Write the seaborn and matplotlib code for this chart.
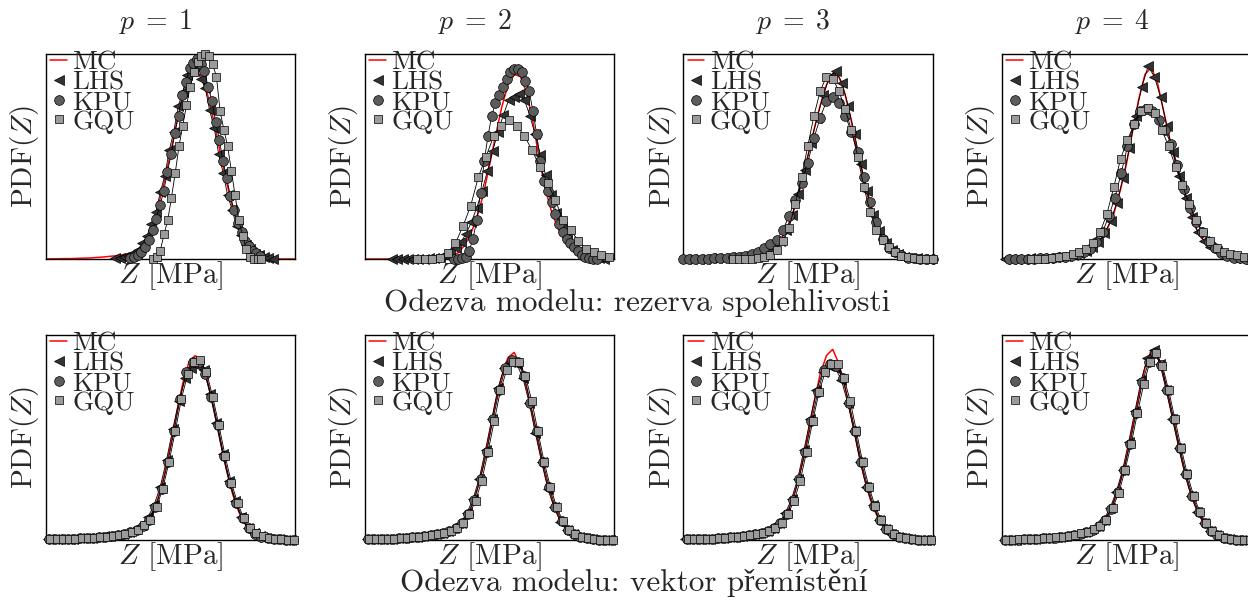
import numpy as np
import matplotlib
matplotlib.use("Agg")
import matplotlib.pyplot as plt
from matplotlib.lines import Line2D
import seaborn as sns

# ---------------------------------------------------------------------------
# Estimated PDFs of the model response Z (arbitrary units on both axes).
# MC curves are sampled on 0..100; each surrogate series has its own
# evaluation span (first, last point) and values.
# ---------------------------------------------------------------------------
methods = ["LHS", "KPU", "GQU"]
orders = [1, 2, 3, 4]
row_titles = ["Odezva modelu: rezerva spolehlivosti",
              "Odezva modelu: vektor přemístění"]

# --- reliability margin (rezerva spolehlivosti) ---------------------------
r1_mc = [0.000, 0.001, 0.001, 0.002, 0.002, 0.003, 0.004, 0.005, 0.007, 0.009, 0.012,
         0.015, 0.019, 0.024, 0.030, 0.045, 0.090, 0.150, 0.250, 0.370, 0.510, 0.660,
         0.790, 0.880, 0.920, 0.890, 0.800, 0.670, 0.520, 0.380, 0.250, 0.150, 0.080,
         0.040, 0.020, 0.008, 0.003, 0.001, 0.000, 0.000, 0.000]
r1_lhs_span = (28, 91)
r1_lhs = [0.003, 0.004, 0.010, 0.015, 0.030, 0.045, 0.078, 0.110, 0.170, 0.228, 0.325,
          0.405, 0.530, 0.620, 0.745, 0.815, 0.900, 0.918, 0.935, 0.880, 0.835, 0.725,
          0.640, 0.512, 0.420, 0.310, 0.240, 0.160, 0.118, 0.070, 0.050, 0.026, 0.018,
          0.008, 0.006, 0.002]
r1_kpu_span = (34, 86)
r1_kpu = [0.005, 0.010, 0.018, 0.035, 0.060, 0.095, 0.140, 0.196, 0.262, 0.330, 0.425,
          0.510, 0.615, 0.700, 0.800, 0.865, 0.930, 0.958, 0.975, 0.950, 0.915, 0.840,
          0.770, 0.670, 0.582, 0.478, 0.395, 0.305, 0.240, 0.175, 0.130, 0.090, 0.064,
          0.040, 0.028, 0.015]
r1_gqu_span = (43, 86.5)
r1_gqu = [0.0, 0.01, 0.04, 0.12, 0.19, 0.30, 0.42, 0.55, 0.65, 0.75, 0.84, 0.91, 0.96,
          0.99, 1.0, 0.99, 0.95, 0.89, 0.72, 0.63, 0.55, 0.43, 0.31, 0.19, 0.11, 0.05,
          0.01, 0.0, 0.0, 0.0]

r2_mc = [0.0, 0.0, 0.0, 0.0, 0.0, 0.001, 0.001, 0.002, 0.002, 0.003, 0.004, 0.005,
         0.007, 0.010, 0.016, 0.030, 0.065, 0.120, 0.200, 0.310, 0.450, 0.600, 0.740,
         0.850, 0.900, 0.890, 0.810, 0.670, 0.490, 0.340, 0.230, 0.150, 0.095, 0.055,
         0.030, 0.014, 0.006, 0.002, 0.001, 0.0, 0.0]
r2_lhs_span = (11, 96)
r2_lhs = [0.0, 0.0, 0.0, 0.0, 0.0, 0.001, 0.001, 0.003, 0.006, 0.011, 0.019, 0.032,
          0.053, 0.082, 0.124, 0.181, 0.250, 0.333, 0.428, 0.527, 0.620, 0.701, 0.775,
          0.790, 0.805, 0.775, 0.700, 0.608, 0.509, 0.408, 0.311, 0.226, 0.158, 0.106,
          0.067, 0.041, 0.024, 0.013, 0.007, 0.004, 0.002]
r2_kpu_span = (36, 93)
r2_kpu = [0.0, 0.0, 0.005, 0.01, 0.04, 0.10, 0.19, 0.32, 0.48, 0.60, 0.70, 0.76, 0.80,
          0.84, 0.88, 0.91, 0.925, 0.925, 0.91, 0.87, 0.82, 0.72, 0.61, 0.48, 0.38, 0.33,
          0.28, 0.22, 0.17, 0.13, 0.10, 0.08, 0.06, 0.04, 0.02, 0.01, 0.003, 0.001, 0.0]
r2_gqu_span = (21, 98)
r2_gqu = [0.0, 0.0, 0.0, 0.005, 0.03, 0.076, 0.16, 0.26, 0.40, 0.50, 0.60, 0.65, 0.68,
          0.65, 0.60, 0.53, 0.45, 0.37, 0.29, 0.19, 0.14, 0.09, 0.05, 0.035, 0.02, 0.01]

r3_mc = [0.001, 0.001, 0.002, 0.002, 0.003, 0.004, 0.005, 0.007, 0.009, 0.012, 0.016,
         0.021, 0.028, 0.037, 0.050, 0.070, 0.110, 0.170, 0.260, 0.370, 0.500, 0.630,
         0.750, 0.850, 0.905, 0.890, 0.800, 0.670, 0.520, 0.380, 0.260, 0.165, 0.100,
         0.058, 0.032, 0.017, 0.008, 0.004, 0.002, 0.001, 0.000]
r3_lhs_span = (1.25, 98.75)
r3_lhs = [0.001, 0.001, 0.002, 0.002, 0.003, 0.004, 0.006, 0.008, 0.010, 0.014, 0.018,
          0.024, 0.032, 0.043, 0.060, 0.090, 0.140, 0.215, 0.315, 0.435, 0.565, 0.690,
          0.800, 0.890, 0.915, 0.860, 0.745, 0.610, 0.465, 0.330, 0.215, 0.135, 0.080,
          0.046, 0.025, 0.012, 0.006, 0.003, 0.0015, 0.0005]
r3_kpu_span = (0, 100)
r3_kpu = [0.0, 0.0, 0.001, 0.001, 0.002, 0.003, 0.004, 0.006, 0.008, 0.012, 0.017, 0.025,
          0.036, 0.053, 0.072, 0.093, 0.14, 0.21, 0.29, 0.37, 0.47, 0.59, 0.69, 0.77,
          0.79, 0.76, 0.70, 0.62, 0.52, 0.40, 0.28, 0.18, 0.10, 0.055, 0.033, 0.018,
          0.006, 0.003, 0.001, 0.0, 0.0]
r3_gqu_span = (20, 100)
r3_gqu = [0.0, 0.0, 0.001, 0.002, 0.004, 0.008, 0.02, 0.045, 0.09, 0.15, 0.27, 0.40,
          0.55, 0.70, 0.82, 0.89, 0.88, 0.82, 0.73, 0.63, 0.50, 0.35, 0.23, 0.14, 0.095,
          0.058, 0.032, 0.016, 0.008, 0.003, 0.001, 0.0, 0.0]

r4_mc = [0.0, 0.001, 0.001, 0.002, 0.002, 0.003, 0.004, 0.005, 0.007, 0.009, 0.012,
         0.017, 0.024, 0.034, 0.048, 0.070, 0.100, 0.150, 0.220, 0.330, 0.460, 0.620,
         0.780, 0.900, 0.935, 0.860, 0.720, 0.580, 0.460, 0.350, 0.250, 0.160, 0.105,
         0.070, 0.047, 0.028, 0.013, 0.005, 0.002, 0.0005, 0.0]
r4_lhs_span = (1.25, 98.75)
r4_lhs = [0.0005, 0.001, 0.0015, 0.002, 0.0025, 0.0035, 0.0045, 0.006, 0.008, 0.0105,
          0.0145, 0.0205, 0.029, 0.041, 0.059, 0.085, 0.125, 0.185, 0.275, 0.395, 0.54,
          0.70, 0.84, 0.94, 0.89, 0.79, 0.65, 0.52, 0.405, 0.30, 0.205, 0.13, 0.088,
          0.058, 0.037, 0.02, 0.009, 0.0035, 0.001, 0.0]
r4_kpu_span = (3, 98)
r4_kpu = [0.0, 0.001, 0.001, 0.002, 0.002, 0.003, 0.004, 0.006, 0.008, 0.011, 0.016,
          0.023, 0.034, 0.05, 0.085, 0.13, 0.21, 0.30, 0.42, 0.55, 0.66, 0.72, 0.73, 0.72,
          0.68, 0.63, 0.56, 0.46, 0.34, 0.25, 0.18, 0.13, 0.085, 0.052, 0.03, 0.014,
          0.006, 0.004, 0.002]
r4_gqu_span = (12, 100)
r4_gqu = [0.0, 0.001, 0.002, 0.004, 0.008, 0.014, 0.022, 0.035, 0.05, 0.08, 0.13, 0.22,
          0.35, 0.49, 0.58, 0.66, 0.72, 0.735, 0.71, 0.63, 0.55, 0.45, 0.36, 0.27, 0.19,
          0.13, 0.09, 0.055, 0.035, 0.025, 0.02, 0.012, 0.005]

# --- displacement vector (vektor přemístění) ------------------------------
v1_mc = [0.003, 0.004, 0.004, 0.005, 0.006, 0.007, 0.009, 0.011, 0.013, 0.016, 0.019,
         0.022, 0.026, 0.033, 0.043, 0.057, 0.083, 0.127, 0.200, 0.310, 0.455, 0.616,
         0.764, 0.868, 0.900, 0.866, 0.771, 0.636, 0.485, 0.343, 0.224, 0.136, 0.077,
         0.040, 0.024, 0.012, 0.006, 0.004, 0.002, 0.001, 0.001]
v1_lhs_span = (1, 98.5)
v1_lhs = [0.003, 0.004, 0.005, 0.005, 0.007, 0.008, 0.010, 0.012, 0.015, 0.018, 0.021,
          0.025, 0.031, 0.040, 0.053, 0.075, 0.11, 0.17, 0.26, 0.39, 0.54, 0.68, 0.79,
          0.84, 0.85, 0.83, 0.71, 0.57, 0.42, 0.29, 0.19, 0.11, 0.06, 0.034, 0.018,
          0.010, 0.005, 0.003, 0.002, 0.001]
v1_kpu_span = (1.5, 99)
v1_kpu = [0.004, 0.004, 0.004, 0.006, 0.006, 0.008, 0.010, 0.012, 0.014, 0.017, 0.020,
          0.024, 0.029, 0.037, 0.048, 0.068, 0.10, 0.16, 0.25, 0.38, 0.53, 0.69, 0.82,
          0.87, 0.87, 0.81, 0.70, 0.56, 0.41, 0.28, 0.18, 0.105, 0.057, 0.031, 0.017,
          0.009, 0.005, 0.003, 0.002, 0.001]
v1_gqu_span = (2, 99.5)
v1_gqu = [0.003, 0.004, 0.005, 0.005, 0.006, 0.008, 0.010, 0.012, 0.015, 0.017, 0.021,
          0.024, 0.030, 0.038, 0.050, 0.071, 0.10, 0.16, 0.25, 0.38, 0.53, 0.69, 0.81,
          0.87, 0.88, 0.82, 0.70, 0.56, 0.41, 0.28, 0.18, 0.105, 0.058, 0.032, 0.018,
          0.009, 0.005, 0.003, 0.002, 0.001]

v2_mc = [0.003, 0.004, 0.005, 0.005, 0.006, 0.008, 0.010, 0.012, 0.014, 0.017, 0.021,
         0.025, 0.030, 0.038, 0.050, 0.068, 0.10, 0.155, 0.24, 0.36, 0.51, 0.67, 0.80,
         0.89, 0.915, 0.85, 0.74, 0.60, 0.45, 0.31, 0.20, 0.12, 0.066, 0.035, 0.019,
         0.010, 0.005, 0.003, 0.002, 0.001, 0.001]
v2_lhs_span = (1, 98.5)
v2_lhs = [0.003, 0.004, 0.005, 0.006, 0.007, 0.009, 0.011, 0.013, 0.016, 0.019, 0.023,
          0.028, 0.034, 0.044, 0.059, 0.084, 0.13, 0.20, 0.30, 0.44, 0.59, 0.74, 0.84,
          0.87, 0.86, 0.79, 0.67, 0.52, 0.38, 0.25, 0.16, 0.09, 0.05, 0.027, 0.014, 0.008,
          0.004, 0.002, 0.001, 0.001]
v2_kpu_span = (1.5, 99)
v2_kpu = [0.004, 0.004, 0.005, 0.006, 0.007, 0.009, 0.011, 0.013, 0.015, 0.019, 0.023,
          0.027, 0.034, 0.043, 0.058, 0.083, 0.125, 0.195, 0.30, 0.43, 0.59, 0.73, 0.84,
          0.88, 0.87, 0.80, 0.67, 0.53, 0.38, 0.26, 0.16, 0.093, 0.05, 0.027, 0.015,
          0.008, 0.004, 0.002, 0.001, 0.001]
v2_gqu_span = (2, 99.5)
v2_gqu = [0.003, 0.004, 0.005, 0.006, 0.007, 0.009, 0.011, 0.013, 0.016, 0.019, 0.022,
          0.027, 0.033, 0.043, 0.058, 0.082, 0.125, 0.19, 0.29, 0.43, 0.58, 0.73, 0.83,
          0.87, 0.87, 0.80, 0.68, 0.53, 0.38, 0.26, 0.16, 0.092, 0.05, 0.027, 0.015,
          0.008, 0.004, 0.002, 0.001, 0.001]

v3_mc = [0.003, 0.004, 0.005, 0.005, 0.006, 0.008, 0.010, 0.012, 0.014, 0.017, 0.021,
         0.025, 0.030, 0.038, 0.050, 0.068, 0.10, 0.155, 0.24, 0.36, 0.51, 0.67, 0.81,
         0.90, 0.93, 0.86, 0.74, 0.60, 0.45, 0.31, 0.20, 0.125, 0.07, 0.038, 0.021,
         0.011, 0.006, 0.003, 0.002, 0.001, 0.001]
v3_lhs_span = (1, 98.5)
v3_lhs = [0.003, 0.004, 0.005, 0.006, 0.007, 0.009, 0.011, 0.013, 0.016, 0.019, 0.023,
          0.028, 0.034, 0.044, 0.059, 0.085, 0.13, 0.20, 0.30, 0.44, 0.59, 0.73, 0.82,
          0.85, 0.84, 0.78, 0.67, 0.53, 0.38, 0.26, 0.17, 0.10, 0.055, 0.03, 0.016,
          0.009, 0.004, 0.002, 0.001, 0.001]
v3_kpu_span = (1.5, 99)
v3_kpu = [0.004, 0.004, 0.005, 0.006, 0.007, 0.009, 0.011, 0.013, 0.015, 0.019, 0.023,
          0.027, 0.034, 0.043, 0.058, 0.083, 0.125, 0.195, 0.30, 0.43, 0.58, 0.72, 0.83,
          0.86, 0.85, 0.79, 0.67, 0.53, 0.38, 0.26, 0.165, 0.097, 0.053, 0.029, 0.016,
          0.008, 0.004, 0.002, 0.001, 0.001]
v3_gqu_span = (2, 99.5)
v3_gqu = [0.003, 0.004, 0.005, 0.006, 0.007, 0.009, 0.011, 0.013, 0.016, 0.019, 0.022,
          0.027, 0.033, 0.043, 0.058, 0.082, 0.125, 0.19, 0.29, 0.43, 0.58, 0.72, 0.82,
          0.86, 0.86, 0.79, 0.68, 0.53, 0.38, 0.26, 0.165, 0.096, 0.052, 0.028, 0.016,
          0.008, 0.004, 0.002, 0.001, 0.001]

v4_mc = [0.0, 0.001, 0.002, 0.003, 0.004, 0.005, 0.007, 0.009, 0.011, 0.014, 0.018,
         0.022, 0.028, 0.035, 0.045, 0.058, 0.08, 0.12, 0.19, 0.28, 0.40, 0.55, 0.70,
         0.84, 0.925, 0.91, 0.80, 0.66, 0.52, 0.38, 0.26, 0.17, 0.105, 0.06, 0.032,
         0.016, 0.007, 0.003, 0.001, 0.0, 0.0]
v4_lhs_span = (1, 98.5)
v4_lhs = [0.0, 0.001, 0.002, 0.003, 0.005, 0.006, 0.008, 0.010, 0.013, 0.016, 0.020,
          0.025, 0.032, 0.040, 0.052, 0.069, 0.10, 0.155, 0.235, 0.34, 0.48, 0.63, 0.78,
          0.89, 0.925, 0.86, 0.73, 0.59, 0.45, 0.32, 0.215, 0.137, 0.082, 0.046, 0.024,
          0.011, 0.005, 0.002, 0.0005, 0.0]
v4_kpu_span = (1.5, 99)
v4_kpu = [0.001, 0.001, 0.002, 0.004, 0.004, 0.006, 0.008, 0.010, 0.012, 0.016, 0.020,
          0.025, 0.031, 0.040, 0.051, 0.069, 0.10, 0.15, 0.235, 0.34, 0.47, 0.62, 0.77,
          0.87, 0.91, 0.855, 0.73, 0.59, 0.45, 0.32, 0.215, 0.138, 0.083, 0.046, 0.024,
          0.012, 0.005, 0.002, 0.001, 0.0]
v4_gqu_span = (2, 99.5)
v4_gqu = [0.001, 0.002, 0.003, 0.004, 0.005, 0.006, 0.008, 0.010, 0.013, 0.016, 0.020,
          0.025, 0.032, 0.041, 0.052, 0.07, 0.10, 0.155, 0.23, 0.34, 0.47, 0.62, 0.76,
          0.87, 0.91, 0.85, 0.73, 0.59, 0.45, 0.32, 0.215, 0.137, 0.082, 0.046, 0.024,
          0.012, 0.005, 0.002, 0.001, 0.0]

# panel contents, row by row
rows = [
    [(r1_mc, [(r1_lhs_span, r1_lhs), (r1_kpu_span, r1_kpu), (r1_gqu_span, r1_gqu)]),
     (r2_mc, [(r2_lhs_span, r2_lhs), (r2_kpu_span, r2_kpu), (r2_gqu_span, r2_gqu)]),
     (r3_mc, [(r3_lhs_span, r3_lhs), (r3_kpu_span, r3_kpu), (r3_gqu_span, r3_gqu)]),
     (r4_mc, [(r4_lhs_span, r4_lhs), (r4_kpu_span, r4_kpu), (r4_gqu_span, r4_gqu)])],
    [(v1_mc, [(v1_lhs_span, v1_lhs), (v1_kpu_span, v1_kpu), (v1_gqu_span, v1_gqu)]),
     (v2_mc, [(v2_lhs_span, v2_lhs), (v2_kpu_span, v2_kpu), (v2_gqu_span, v2_gqu)]),
     (v3_mc, [(v3_lhs_span, v3_lhs), (v3_kpu_span, v3_kpu), (v3_gqu_span, v3_gqu)]),
     (v4_mc, [(v4_lhs_span, v4_lhs), (v4_kpu_span, v4_kpu), (v4_gqu_span, v4_gqu)])],
]

# ---------------------------------------------------------------------------
# Styling
# ---------------------------------------------------------------------------
sns.set_style("white")
plt.rcParams.update({
    "font.family": ["cmr10", "Liberation Serif"],
    "mathtext.fontset": "cm",
    "axes.formatter.use_mathtext": True,
    "axes.unicode_minus": False,
})

marker_styles = {
    "LHS": dict(marker="<", markersize=7.0, markerfacecolor="#333333"),
    "KPU": dict(marker="o", markersize=7.0, markerfacecolor="#5c5c5c"),
    "GQU": dict(marker="s", markersize=5.8, markerfacecolor="#9b9b9b"),
}
LABEL_FS = 21
TITLE_FS = 20
CAPTION_FS = 22.5
LEG_FS = 19.5

fig = plt.figure(figsize=(12.48, 6.0), dpi=100)

W, H = 1248.0, 600.0
col_left_px = [45.5, 364.5, 683.0, 1001.5]
row_top_px = [54.0, 335.0]
ax_w_px, ax_h_px = 249.5, 205.0

for r, row in enumerate(rows):
    for c, (mc_vals, series) in enumerate(row):
        left = col_left_px[c] / W
        bottom = 1 - (row_top_px[r] + ax_h_px) / H
        ax = fig.add_axes([left, bottom, ax_w_px / W, ax_h_px / H])

        x_mc = np.linspace(0, 100, len(mc_vals))
        sns.lineplot(x=x_mc, y=mc_vals, ax=ax, color="red", lw=1.1,
                     estimator=None, sort=False, zorder=2)
        for name, (span, vals) in zip(methods, series):
            xs = np.linspace(span[0], span[1], len(vals))
            sns.lineplot(x=xs, y=vals, ax=ax, color="black", lw=0.6,
                         markeredgecolor="black", markeredgewidth=0.5,
                         estimator=None, sort=False, clip_on=False, zorder=3,
                         **marker_styles[name])

        ax.set_xlim(0, 100)
        ax.set_ylim(0, 1.0)
        ax.set_xticks([])
        ax.set_yticks([])
        for sp in ax.spines.values():
            sp.set_visible(True)
            sp.set_color("black")
            sp.set_linewidth(1.0)
        ax.set_xlabel("$Z$ [MPa]", fontsize=LABEL_FS, labelpad=0)
        ax.set_ylabel("PDF($Z$)", fontsize=LABEL_FS, labelpad=3)

        handles = [Line2D([], [], color="red", lw=1.1)]
        for name in methods:
            handles.append(Line2D([], [], ls="none", markeredgecolor="black",
                                  markeredgewidth=0.5, **marker_styles[name]))
        ax.legend(handles, ["MC"] + methods, loc="upper left",
                  bbox_to_anchor=(0.02, 1.015), frameon=False, fontsize=LEG_FS,
                  borderpad=0.0, borderaxespad=0.0, handlelength=0.6,
                  handletextpad=0.2, labelspacing=-0.16)

# column headers
title_x_px = [156, 475, 793, 1112]
for c, p in enumerate(orders):
    fig.text(title_x_px[c] / W, 1 - 22 / H, rf"$p\;=\;{p}$", ha="center",
             va="center", fontsize=TITLE_FS)

# row captions
fig.text(637 / W, 1 - 303 / H, row_titles[0], ha="center", va="center",
         fontsize=CAPTION_FS)
fig.text(634 / W, 1 - 583 / H, row_titles[1], ha="center", va="center",
         fontsize=CAPTION_FS)

fig.savefig("out.png", dpi=100)
